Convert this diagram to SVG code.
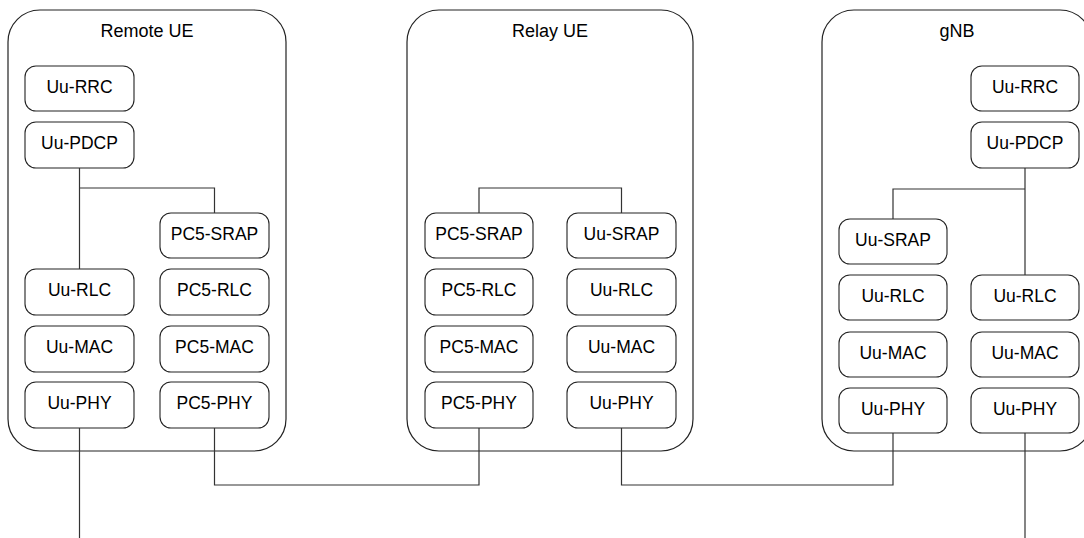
<svg xmlns="http://www.w3.org/2000/svg" width="1084" height="538" viewBox="0 0 1084 538">
<style>
.ctr{fill:#fff;stroke:#222;stroke-width:1.2}
.box{fill:#fff;stroke:#222;stroke-width:1.1}
.t{font-family:"Liberation Sans",Arial,sans-serif;font-size:17.5px;fill:#000;text-anchor:middle}
.h{font-family:"Liberation Sans",Arial,sans-serif;font-size:18px;fill:#000;text-anchor:middle}
.c{fill:none;stroke:#333;stroke-width:1.2}
</style>
<rect width="1084" height="538" fill="#fff"/>
<g id="remote-ue">
<rect class="ctr" x="8" y="10" width="278" height="441" rx="32"/>
<text class="h" x="147" y="37">Remote UE</text>
</g>
<g id="relay-ue">
<rect class="ctr" x="407" y="10" width="286" height="441" rx="32"/>
<text class="h" x="550" y="37">Relay UE</text>
</g>
<g id="gnb">
<rect class="ctr" x="822" y="10" width="270" height="441" rx="32"/>
<text class="h" x="957" y="37">gNB</text>
</g>
<g id="r-uu-rrc"><rect class="box" x="25" y="66" width="109" height="45" rx="11"/><text class="t" x="79.5" y="92.5">Uu-RRC</text></g>
<g id="r-uu-pdcp"><rect class="box" x="25" y="122" width="109" height="46" rx="11"/><text class="t" x="79.5" y="149">Uu-PDCP</text></g>
<g id="r-pc5-srap"><rect class="box" x="160" y="213" width="109" height="45" rx="11"/><text class="t" x="214.5" y="239.5">PC5-SRAP</text></g>
<g id="r-uu-rlc"><rect class="box" x="25" y="269" width="109" height="46" rx="11"/><text class="t" x="79.5" y="296">Uu-RLC</text></g>
<g id="r-pc5-rlc"><rect class="box" x="160" y="269" width="109" height="46" rx="11"/><text class="t" x="214.5" y="296">PC5-RLC</text></g>
<g id="r-uu-mac"><rect class="box" x="25" y="326" width="109" height="46" rx="11"/><text class="t" x="79.5" y="353">Uu-MAC</text></g>
<g id="r-pc5-mac"><rect class="box" x="160" y="326" width="109" height="46" rx="11"/><text class="t" x="214.5" y="353">PC5-MAC</text></g>
<g id="r-uu-phy"><rect class="box" x="25" y="382" width="109" height="46" rx="11"/><text class="t" x="79.5" y="409">Uu-PHY</text></g>
<g id="r-pc5-phy"><rect class="box" x="160" y="382" width="109" height="46" rx="11"/><text class="t" x="214.5" y="409">PC5-PHY</text></g>
<g id="y-pc5-srap"><rect class="box" x="425" y="213" width="108" height="45" rx="11"/><text class="t" x="479" y="239.5">PC5-SRAP</text></g>
<g id="y-uu-srap"><rect class="box" x="567" y="213" width="109" height="45" rx="11"/><text class="t" x="621.5" y="239.5">Uu-SRAP</text></g>
<g id="y-pc5-rlc"><rect class="box" x="425" y="269" width="108" height="46" rx="11"/><text class="t" x="479" y="296">PC5-RLC</text></g>
<g id="y-uu-rlc"><rect class="box" x="567" y="269" width="109" height="46" rx="11"/><text class="t" x="621.5" y="296">Uu-RLC</text></g>
<g id="y-pc5-mac"><rect class="box" x="425" y="326" width="108" height="46" rx="11"/><text class="t" x="479" y="353">PC5-MAC</text></g>
<g id="y-uu-mac"><rect class="box" x="567" y="326" width="109" height="46" rx="11"/><text class="t" x="621.5" y="353">Uu-MAC</text></g>
<g id="y-pc5-phy"><rect class="box" x="425" y="382" width="108" height="46" rx="11"/><text class="t" x="479" y="409">PC5-PHY</text></g>
<g id="y-uu-phy"><rect class="box" x="567" y="382" width="109" height="46" rx="11"/><text class="t" x="621.5" y="409">Uu-PHY</text></g>
<g id="g-uu-rrc"><rect class="box" x="971" y="66" width="108" height="45" rx="11"/><text class="t" x="1025" y="92.5">Uu-RRC</text></g>
<g id="g-uu-pdcp"><rect class="box" x="971" y="122" width="108" height="46" rx="11"/><text class="t" x="1025" y="149">Uu-PDCP</text></g>
<g id="g-uu-srap"><rect class="box" x="839" y="219" width="108" height="45" rx="11"/><text class="t" x="893" y="245.5">Uu-SRAP</text></g>
<g id="g-uu-rlc-a"><rect class="box" x="839" y="275" width="108" height="45" rx="11"/><text class="t" x="893" y="301.5">Uu-RLC</text></g>
<g id="g-uu-rlc-b"><rect class="box" x="971" y="275" width="108" height="45" rx="11"/><text class="t" x="1025" y="301.5">Uu-RLC</text></g>
<g id="g-uu-mac-a"><rect class="box" x="839" y="332" width="108" height="45" rx="11"/><text class="t" x="893" y="358.5">Uu-MAC</text></g>
<g id="g-uu-mac-b"><rect class="box" x="971" y="332" width="108" height="45" rx="11"/><text class="t" x="1025" y="358.5">Uu-MAC</text></g>
<g id="g-uu-phy-a"><rect class="box" x="839" y="388" width="108" height="45" rx="11"/><text class="t" x="893" y="414.5">Uu-PHY</text></g>
<g id="g-uu-phy-b"><rect class="box" x="971" y="388" width="108" height="45" rx="11"/><text class="t" x="1025" y="414.5">Uu-PHY</text></g>
<g id="connectors">
<path class="c" d="M79.5 168V269M79.5 188H214.5V213"/>
<path class="c" d="M479 213V188H621.5V213"/>
<path class="c" d="M1025 168V275M1025 189H893V219"/>
<path class="c" d="M79.5 428V538"/>
<path class="c" d="M214.5 428V485H479V428"/>
<path class="c" d="M621.5 428V485H893V433"/>
<path class="c" d="M1025 433V538"/>
</g>
</svg>
